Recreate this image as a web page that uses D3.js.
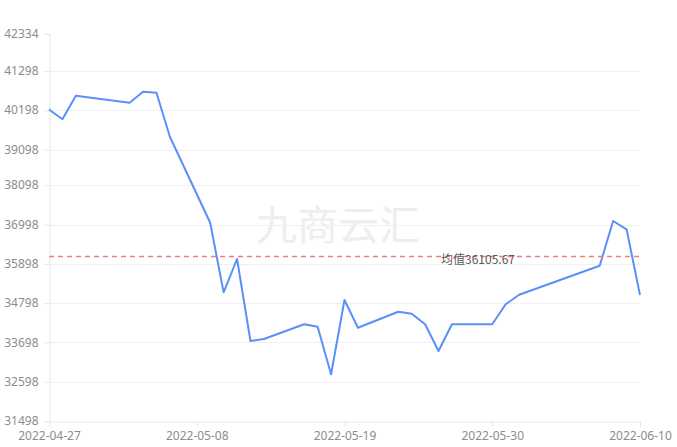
<!DOCTYPE html>
<html>
<head>
<meta charset="utf-8">
<script src="https://cdn.jsdelivr.net/npm/d3@7/dist/d3.min.js"></script>
<style>
  html, body { margin: 0; padding: 0; background: #fff; }
  svg { display: block; font-family: "Noto Sans", "Noto Sans CJK SC", sans-serif; }
</style>
</head>
<body>
<svg id="chart" width="677" height="447"></svg>
<script>
// ---- data ----
const dates = [
  "2022-04-27","2022-04-28","2022-04-29","2022-05-03","2022-05-04","2022-05-05","2022-05-06",
  "2022-05-09","2022-05-10","2022-05-11","2022-05-12","2022-05-13",
  "2022-05-16","2022-05-17","2022-05-18","2022-05-19","2022-05-20",
  "2022-05-23","2022-05-24","2022-05-25","2022-05-26","2022-05-27",
  "2022-05-30","2022-05-31","2022-06-01",
  "2022-06-07","2022-06-08","2022-06-09","2022-06-10"
];
const values = [
  40220, 39946, 40606, 40410, 40718, 40690, 39458,
  37050, 35102, 36034, 33738, 33794,
  34206, 34138, 32808, 34886, 34110,
  34558, 34502, 34206, 33458, 34206,
  34206, 34766, 35034,
  35846, 37098, 36866, 35026
];
const yTicks = [31498, 32598, 33698, 34798, 35898, 36998, 38098, 39098, 40198, 41298, 42334];
const xTickLabels = ["2022-04-27", "2022-05-08", "2022-05-19", "2022-05-30", "2022-06-10"];
const avgValue = 36105.67;
const avgLabel = "均值";
const watermark = "九商云汇";

// ---- layout ----
const margin = { left: 49, right: 37, top: 34, bottom: 26 };
const W = 677, H = 447;
const parse = d3.timeParse("%Y-%m-%d");
const data = dates.map((d, i) => ({ date: parse(d), value: values[i] }));

const x = d3.scaleTime()
  .domain([parse(xTickLabels[0]), parse(xTickLabels[xTickLabels.length - 1])])
  .range([margin.left, W - margin.right]);
const y = d3.scaleLinear()
  .domain([yTicks[0], yTicks[yTicks.length - 1]])
  .range([H - margin.bottom, margin.top]);

const svg = d3.select("#chart");

// watermark
svg.append("text")
  .attr("x", 338)
  .attr("y", 222)
  .attr("text-anchor", "middle")
  .attr("dominant-baseline", "central")
  .attr("font-family", "'Noto Sans CJK SC', sans-serif")
  .attr("font-size", 41)
  .attr("fill", "#eeeeee")
  .text(watermark);

// gridlines
svg.append("g")
  .selectAll("line")
  .data(yTicks.slice(1, -1))
  .join("line")
  .attr("x1", margin.left).attr("x2", W - margin.right)
  .attr("y1", d => Math.round(y(d)) + 0.5).attr("y2", d => Math.round(y(d)) + 0.5)
  .attr("stroke", "#f0f0f0");

// y axis
const yAxis = svg.append("g")
  .attr("transform", `translate(${margin.left + 0.5},0)`)
  .call(d3.axisLeft(y).tickValues(yTicks).tickSize(5).tickPadding(6).tickFormat(d => String(d)));
yAxis.select(".domain").attr("stroke", "#e6e6e6");
yAxis.selectAll(".tick line").attr("stroke", "#e6e6e6");
yAxis.selectAll(".tick text")
  .attr("fill", "#8c8c8c").attr("font-size", 12)
  .attr("dy", "0.3em")
  .attr("font-family", "'Noto Sans', sans-serif");

// x axis
const xAxis = svg.append("g")
  .attr("transform", `translate(0,${H - margin.bottom + 0.5})`)
  .call(d3.axisBottom(x).tickValues(xTickLabels.map(parse)).tickSize(5).tickPadding(5)
    .tickFormat(d3.timeFormat("%Y-%m-%d")));
xAxis.select(".domain").attr("stroke", "#e6e6e6");
xAxis.selectAll(".tick line").attr("stroke", "#e6e6e6");
xAxis.selectAll(".tick text")
  .attr("fill", "#8c8c8c").attr("font-size", 12)
  .attr("font-family", "'Noto Sans', sans-serif");

// line
const line = d3.line().x(d => x(d.date)).y(d => y(d.value));
svg.append("path")
  .datum(data)
  .attr("d", line)
  .attr("fill", "none")
  .attr("stroke", "#5B8FF9")
  .attr("stroke-width", 2)
  .attr("stroke-linejoin", "round");

// average mark line
svg.append("line")
  .attr("x1", margin.left).attr("x2", W - margin.right)
  .attr("y1", y(avgValue)).attr("y2", y(avgValue))
  .attr("stroke", "#F57A7A")
  .attr("stroke-width", 1.5)
  .attr("stroke-dasharray", "5,4");

svg.append("text")
  .attr("x", 441)
  .attr("y", y(avgValue) + 2)
  .attr("dominant-baseline", "central")
  .attr("font-size", 12)
  .attr("fill", "#595959")
  .attr("font-family", "'Noto Sans CJK SC', sans-serif")
  .text(avgLabel + d3.format(".2f")(avgValue));
</script>
</body>
</html>
